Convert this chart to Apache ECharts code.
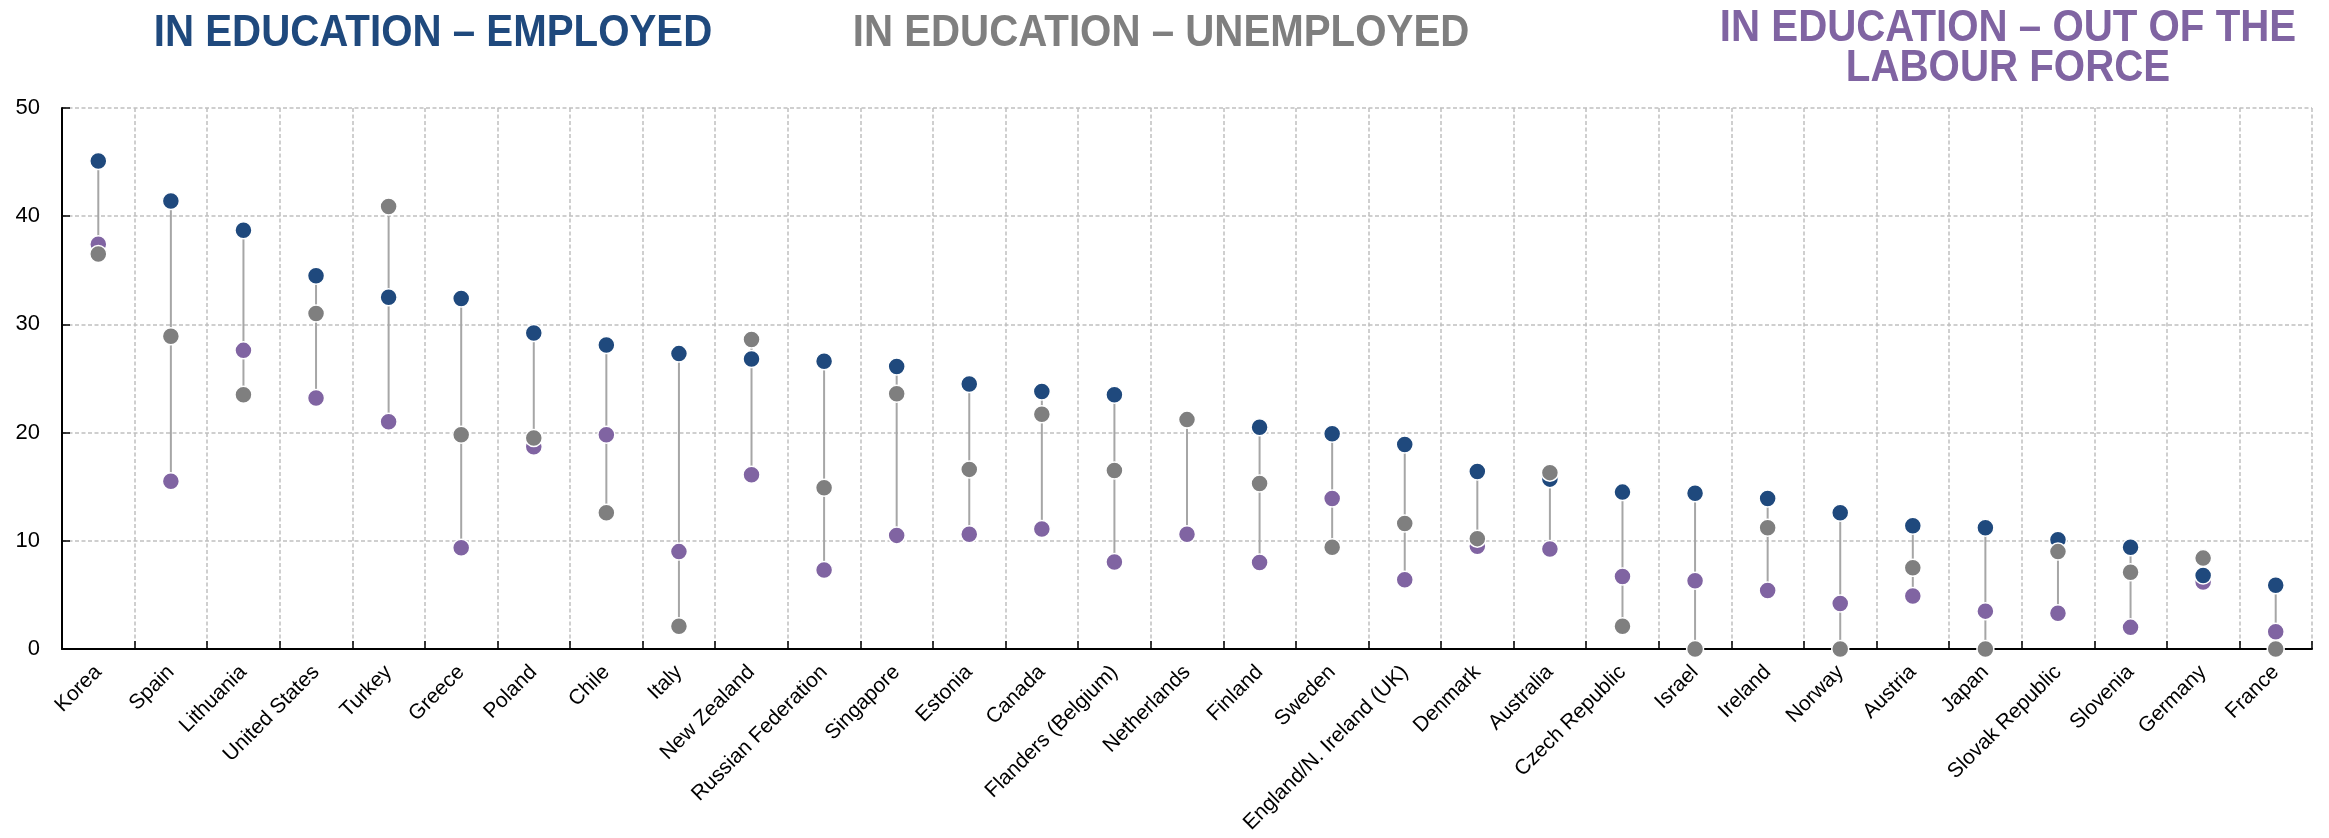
<!DOCTYPE html>
<html>
<head>
<meta charset="utf-8">
<script src="https://cdn.jsdelivr.net/npm/echarts@6/dist/echarts.min.js"></script>
<style>
html,body{margin:0;padding:0;background:#fff;}
#chart{width:2329px;height:838px;}
</style>
</head>
<body>
<div id="chart"></div>
<script>
const categories = ["Korea","Spain","Lithuania","United States","Turkey","Greece","Poland","Chile","Italy","New Zealand","Russian Federation","Singapore","Estonia","Canada","Flanders (Belgium)","Netherlands","Finland","Sweden","England/N. Ireland (UK)","Denmark","Australia","Czech Republic","Israel","Ireland","Norway","Austria","Japan","Slovak Republic","Slovenia","Germany","France"];
const employed   = [45.1,41.4,38.7,34.5,32.5,32.4,29.2,28.1,27.3,26.8,26.6,26.1,24.5,23.8,23.5,21.2,20.5,19.9,18.9,16.4,15.7,14.5,14.4,13.9,12.6,11.4,11.2,10.1,9.4,6.8,5.9];
const unemployed = [36.5,28.9,23.5,31.0,40.9,19.8,19.5,12.6,2.1,28.6,14.9,23.6,16.6,21.7,16.5,21.2,15.3,9.4,11.6,10.2,16.3,2.1,0,11.2,0,7.5,0,9.0,7.1,8.4,0];
const outOfLF    = [37.4,15.5,27.6,23.2,21.0,9.35,18.7,19.8,9.0,16.1,7.3,10.5,10.6,11.1,8.05,10.6,8.0,13.9,6.4,9.5,9.25,6.7,6.3,5.4,4.2,4.9,3.5,3.3,2.0,6.2,1.6];
const yTicks = [0,10,20,30,40,50];
const titles = ["IN EDUCATION – EMPLOYED","IN EDUCATION – UNEMPLOYED","IN EDUCATION – OUT OF THE","LABOUR FORCE"];

const BLUE = '#1F497D', GRAY = '#7F7F7F', PURPLE = '#8064A2';
const rangeData = categories.map((c,i)=>{
  const v=[employed[i],unemployed[i],outOfLF[i]];
  return [i, Math.min.apply(null,v), Math.max.apply(null,v)];
});

const chart = echarts.init(document.getElementById('chart'), null, {renderer:'canvas'});
const titleFont = 'bold 44px "Liberation Sans", Arial, sans-serif';
const markerStyle = (c)=>({color:c, borderColor:'#fff', borderWidth:1.5, opacity:1});
function titleText(txt, x, y, color){
  return {type:'text', x:x, y:y, scaleX:0.915, scaleY:1,
    style:{text:txt, x:0, y:0, fill:color, font:titleFont, textAlign:'center', textVerticalAlign:'middle'}};
}

chart.setOption({
  animation:false,
  backgroundColor:'#fff',
  grid:{left:62,right:17,top:108,bottom:189,containLabel:false},
  graphic:[
    titleText(titles[0],433,34,BLUE),
    titleText(titles[1],1161,34,GRAY),
    titleText(titles[2],2008,29,PURPLE),
    titleText(titles[3],2008,69,PURPLE)
  ],
  xAxis:{
    type:'category',
    data:categories,
    boundaryGap:true,
    axisLine:{show:true,lineStyle:{color:'#000',width:2}},
    axisTick:{show:true,inside:true,length:8,lineStyle:{color:'#000',width:1.5}},
    axisLabel:{interval:0,rotate:45,margin:20,color:'#000',fontSize:21,fontFamily:'"Liberation Sans", Arial, sans-serif'},
    splitLine:{show:true,lineStyle:{color:'#c0c0c0',type:[4,2.5],width:1.5}}
  },
  yAxis:{
    type:'value',
    min:yTicks[0],max:yTicks[yTicks.length-1],interval:10,
    axisLine:{show:true,lineStyle:{color:'#000',width:2}},
    axisTick:{show:true,inside:true,length:8,lineStyle:{color:'#000',width:1.5}},
    axisLabel:{margin:22,color:'#000',fontSize:22,fontFamily:'"Liberation Sans", Arial, sans-serif'},
    splitLine:{show:true,lineStyle:{color:'#c0c0c0',type:[4,2.5],width:1.5}}
  },
  series:[
    {
      type:'custom',
      data:rangeData,
      clip:false,
      z:1,
      renderItem:function(params,api){
        const p1=api.coord([api.value(0),api.value(1)]);
        const p2=api.coord([api.value(0),api.value(2)]);
        return {type:'line',shape:{x1:p1[0],y1:p1[1],x2:p2[0],y2:p2[1]},style:{stroke:'#a6a6a6',lineWidth:2}};
      }
    },
    {name:'Out of the labour force',type:'scatter',data:outOfLF,symbol:'circle',symbolSize:17,itemStyle:markerStyle(PURPLE),z:3},
    {name:'Employed',type:'scatter',data:employed,symbol:'circle',symbolSize:17,itemStyle:markerStyle(BLUE),z:4},
    {name:'Unemployed',type:'scatter',data:unemployed,symbol:'circle',symbolSize:17,itemStyle:markerStyle(GRAY),z:5}
  ]
});
</script>
</body>
</html>
